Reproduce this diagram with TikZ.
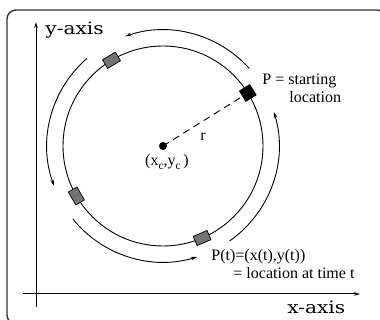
\documentclass[tikz,border=0pt]{standalone}
\usepackage{fontspec}
\setmainfont{Liberation Serif}
\newfontfamily\axisfont{DejaVu Serif}
\usetikzlibrary{arrows.meta,calc}
\newcommand{\subc}{\raisebox{-4pt}{\fontsize{11.5}{12}\selectfont c}}
\begin{document}
\begin{tikzpicture}[x=1pt,y=1pt,
  line width=0.9pt,
  arr/.style={-{Stealth[length=6pt,width=3.5pt]}},
  car/.style={draw=black, line width=0.7pt, fill=black!55, minimum width=15pt, minimum height=10pt, inner sep=0pt},
  pcar/.style={draw=black, fill=black, minimum width=12pt, minimum height=12pt, inner sep=0pt},
  lbl/.style={font=\fontsize{16}{16}\selectfont, inner sep=0pt},
  axlbl/.style={font=\axisfont\fontsize{17}{17}\selectfont, inner sep=0pt}]
\useasboundingbox (0,0) rectangle (380,320);
\begin{scope}
\clip (0,0) rectangle (380,320);
\draw[line width=1.4pt, draw=black!80, rounded corners=9pt] (7,-4) rectangle (386,310);
\end{scope}
% axes
\coordinate (yb) at (36,13);
\coordinate (yt) at (36,298);
\coordinate (xl) at (23,26);
\coordinate (xr) at (360,26);
\draw[arr, line width=1pt] (yb) -- (yt);
\draw[arr, line width=1pt] (xl) -- (xr);
\node[axlbl, anchor=west] (ylab) at (45,290) {\scalebox{1.18}[1]{y-axis}};
\node[axlbl, anchor=west] (xlab) at (287,13) {\scalebox{1.18}[1]{x-axis}};
% circle
\coordinate (c) at (163,174);
\draw (c) circle[radius=100];
% outer arrows
\draw[arr] (c) ++(42:116) arc[start angle=42, end angle=109, radius=116];
\draw[arr] (c) ++(131:116) arc[start angle=131, end angle=200, radius=116];
\draw[arr] (c) ++(219:116) arc[start angle=219, end angle=287, radius=116];
\draw[arr] (c) ++(305:116) arc[start angle=305, end angle=377, radius=116];
% center
\fill (c) circle[radius=4];
\node[pcar, rotate=32] (p) at ($(c)+(32:100)$) {};
\draw[dashed, dash pattern=on 7pt off 5pt] (c) -- (p);
\node[car, rotate=211] (q1) at ($(c)+(121:100)$) {};
\node[car, rotate=300] (q2) at ($(c)+(210:100)$) {};
\node[car, rotate=23] (q3) at ($(c)+(293:100)$) {};
% labels
\node[lbl] (r) at (203,183) {r};
\node[lbl] (cl) at (167,158) {(x\subc,y\subc\,)};
\node[lbl, anchor=west] (s1) at (262,239) {P = starting};
\node[lbl, anchor=west] (s2) at (289,223) {location};
\node[lbl, anchor=west] (t1) at (211,63) {P(t)=(x(t),y(t))};
\node[lbl, anchor=west] (t2) at (233,47) {= location at time t};
\end{tikzpicture}
\end{document}
